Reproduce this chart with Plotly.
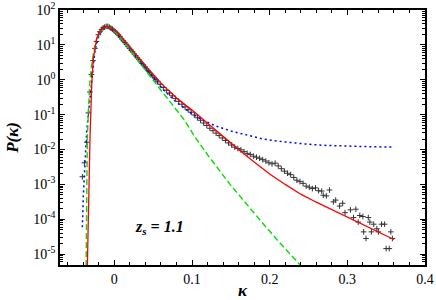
import numpy as np
import plotly.graph_objects as go

# ---------------- data ----------------
# red solid curve
red_k = [-0.0350, -0.0348, -0.0340, -0.0330, -0.0322, -0.0313, -0.0304, -0.0290, -0.0270,
         -0.0250, -0.0227, -0.0205, -0.0184, -0.0142, -0.0098, -0.0050, 0.0, 0.005, 0.012,
         0.0203, 0.030, 0.040, 0.050, 0.063, 0.080, 0.100, 0.120, 0.140, 0.160, 0.180,
         0.200, 0.220, 0.240, 0.260, 0.280, 0.300, 0.320, 0.340, 0.360]
red_log10P = [-5.6, -5.31, -4.3, -3.4, -2.6, -1.6, -1.0, -0.05, 0.62,
              0.95, 1.19, 1.30, 1.38, 1.49, 1.52, 1.48, 1.42, 1.33, 1.14,
              0.92, 0.65, 0.38, 0.14, -0.16, -0.52, -0.87, -1.25, -1.63, -2.00, -2.36,
              -2.70, -3.00, -3.28, -3.51, -3.72, -3.94, -4.15, -4.37, -4.58]

# blue dotted curve
blue_k = [-0.0412, -0.0400, -0.0377, -0.0356, -0.0335, -0.0310, -0.0290, -0.0270, -0.0250,
          -0.0200, -0.0150, -0.0100, -0.0050, 0.0, 0.010, 0.020, 0.030, 0.046, 0.063,
          0.080, 0.100, 0.115, 0.130, 0.150, 0.170, 0.190, 0.210, 0.230, 0.250, 0.270,
          0.290, 0.310, 0.330, 0.360]
blue_log10P = [-4.23, -3.33, -2.37, -1.45, -1.00, -0.45, 0.10, 0.52, 0.85,
               1.25, 1.45, 1.51, 1.48, 1.40, 1.15, 0.88, 0.60, 0.16, -0.28,
               -0.65, -0.98, -1.17, -1.32, -1.47, -1.59, -1.69, -1.76, -1.81, -1.85, -1.88,
               -1.90, -1.91, -1.92, -1.93]

# green dashed curve
green_k = [-0.0364, -0.0362, -0.0358, -0.0353, -0.0347, -0.0335, -0.0320, -0.0300, -0.0270,
           -0.0230, -0.0180, -0.0130, -0.0090, -0.0050, 0.0, 0.010, 0.0203, 0.030, 0.046,
           0.060, 0.0717, 0.090, 0.104, 0.120, 0.149, 0.170, 0.1875, 0.210, 0.230, 0.245]
green_log10P = [-5.6, -5.31, -4.0, -2.7, -1.6, -0.9, -0.2, 0.3, 0.75,
                1.15, 1.38, 1.49, 1.52, 1.48, 1.40, 1.15, 0.86, 0.57, 0.10,
                -0.29, -0.62, -1.15, -1.65, -2.15, -3.00, -3.57, -4.02, -4.60, -5.08, -5.45]

# simulation points (black crosses)
pts_k = [-0.0412, -0.0386, -0.0355, -0.0335, -0.0315, -0.0295, -0.0275, -0.0250, -0.0230,
         -0.0206, -0.0185, -0.0165, -0.0145, -0.0125, -0.0105, -0.0085, -0.0065, -0.0045,
         -0.0025, -0.0005, 0.0015, 0.0035, 0.0055, 0.0075, 0.0095, 0.0115, 0.0135, 0.0155,
         0.0175, 0.0195, 0.0215, 0.0235, 0.0255, 0.0275, 0.0295, 0.0315, 0.0335, 0.0355,
         0.0375, 0.0395, 0.0415, 0.0435, 0.0455, 0.0475, 0.0495, 0.0515, 0.0535, 0.0555,
         0.059, 0.063, 0.067, 0.071, 0.075, 0.079, 0.083, 0.087, 0.091, 0.095, 0.099,
         0.103, 0.107, 0.111, 0.115, 0.119, 0.123, 0.127, 0.131, 0.135, 0.139, 0.143,
         0.147, 0.151, 0.155, 0.159, 0.163, 0.167, 0.171, 0.175, 0.179, 0.183, 0.187,
         0.191, 0.195, 0.199, 0.203, 0.207, 0.211, 0.215, 0.219, 0.223, 0.227, 0.231,
         0.235, 0.239, 0.243, 0.247, 0.251, 0.255, 0.259, 0.263, 0.267, 0.269, 0.273,
         0.277, 0.282, 0.285, 0.290, 0.294, 0.297, 0.304, 0.308, 0.311, 0.314, 0.316,
         0.320, 0.321, 0.324, 0.327, 0.329, 0.331, 0.334, 0.338, 0.340, 0.344, 0.348,
         0.350, 0.354, 0.356, 0.358]
pts_log10P = [-2.78, -2.38, -1.79, -0.95, -0.35, 0.15, 0.55, 0.90, 1.10,
              1.29, 1.38, 1.44, 1.49, 1.51, 1.53, 1.53, 1.51, 1.48,
              1.45, 1.41, 1.37, 1.33, 1.28, 1.23, 1.17, 1.12, 1.07, 1.01,
              0.96, 0.90, 0.85, 0.80, 0.74, 0.69, 0.63, 0.58, 0.52, 0.47,
              0.42, 0.37, 0.31, 0.26, 0.21, 0.16, 0.11, 0.06, 0.01, -0.04,
              -0.13, -0.22, -0.30, -0.38, -0.46, -0.54, -0.62, -0.70, -0.78, -0.86, -0.93,
              -1.01, -1.09, -1.16, -1.24, -1.31, -1.39, -1.46, -1.53, -1.60, -1.67, -1.74,
              -1.81, -1.87, -1.93, -1.97, -2.01, -2.06, -2.11, -2.14, -2.19, -2.22, -2.25,
              -2.29, -2.33, -2.38, -2.41, -2.39, -2.47, -2.55, -2.62, -2.68, -2.72, -2.80,
              -2.88, -2.92, -2.97, -3.05, -3.08, -3.12, -3.10, -3.18, -3.19, -3.31, -3.33,
              -3.16, -3.50, -3.45, -3.62, -3.54, -3.81, -3.73, -3.95, -3.71, -4.08, -3.89,
              -3.92, -4.36, -4.55, -3.95, -4.08, -4.36, -4.14, -4.27, -4.36, -4.14, -4.14,
              -4.84, -4.84, -4.36, -4.55]

x_tickvals = [0, 0.1, 0.2, 0.3, 0.4]
x_ticktext = ["0", "0.1", "0.2", "0.3", "0.4"]
y_exponents = [-5, -4, -3, -2, -1, 0, 1, 2]
y_tickvals = [10.0 ** e for e in y_exponents]
y_ticktext = ["10<sup>%d</sup>" % e for e in y_exponents]

label_text = "<b><i>z<sub>s</sub> = 1.1</i></b>"
label_k, label_log10P = 0.0575, -4.23

# ---------------- figure ----------------
FONT = "Liberation Serif"
fig = go.Figure()

fig.add_trace(go.Scatter(x=pts_k, y=np.power(10.0, pts_log10P), mode="markers",
                         marker=dict(symbol="cross-thin", size=4,
                                     line=dict(color="#333333", width=1)),
                         hoverinfo="skip"))
fig.add_trace(go.Scatter(x=blue_k, y=np.power(10.0, blue_log10P), mode="lines",
                         line=dict(color="#0000ff", width=1.5, dash="2px,3px")))
fig.add_trace(go.Scatter(x=green_k, y=np.power(10.0, green_log10P), mode="lines",
                         line=dict(color="#00e000", width=1.4, dash="6px,3px")))
fig.add_trace(go.Scatter(x=red_k, y=np.power(10.0, red_log10P), mode="lines",
                         line=dict(color="#ff0000", width=1.3)))

fig.add_annotation(x=label_k, y=label_log10P, xref="x", yref="y", text=label_text,
                   showarrow=False, font=dict(family=FONT, size=16, color="black"))

axis_common = dict(showline=True, linecolor="black", linewidth=1.5, mirror="allticks",
                   ticks="inside", ticklen=5, tickcolor="black", tickwidth=1,
                   showgrid=False, zeroline=False, automargin=False,
                   tickfont=dict(family=FONT, size=14, color="black"))

fig.update_xaxes(range=[-0.07, 0.4], tickvals=x_tickvals, ticktext=x_ticktext,
                 minor=dict(dtick=0.02, tick0=0, ticks="inside", ticklen=3,
                            tickcolor="black", showgrid=False),
                 title=dict(text="<b><i>κ</i></b>", font=dict(family=FONT, size=17, color="black"),
                            standoff=4),
                 **axis_common)
fig.update_yaxes(type="log", range=[-5.31, 2.0], tickvals=y_tickvals, ticktext=y_ticktext,
                 minor=dict(dtick="D1", ticks="inside", ticklen=3, tickcolor="black",
                            showgrid=False),
                 title=dict(text="<b><i>P(κ)</i></b>", font=dict(family=FONT, size=17, color="black"),
                            standoff=10),
                 **axis_common)

fig.update_layout(width=436, height=300, margin=dict(l=60, r=11, t=10, b=35),
                  plot_bgcolor="white", paper_bgcolor="white", showlegend=False,
                  font=dict(family=FONT, color="black"))

fig.write_html("out.html", config={"displayModeBar": False},
               post_script="document.body.style.margin='0';")
